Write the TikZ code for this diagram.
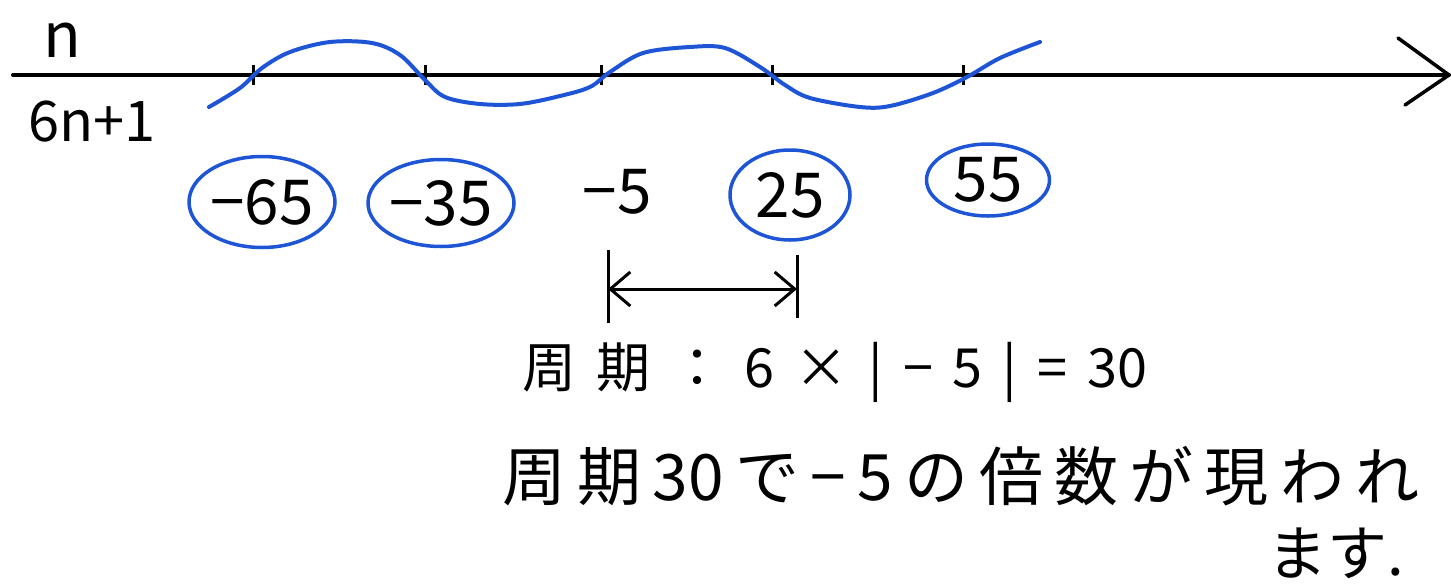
\documentclass[tikz,border=0pt]{standalone}
\usepackage{fontspec}
\setmainfont{Noto Sans CJK JP}
\usetikzlibrary{shapes.geometric,arrows.meta}
\definecolor{penblue}{RGB}{30,85,215}
\tikzset{
  ink/.style={line width=3.5pt, draw=black, line cap=round, line join=round},
  tickmark/.style={line width=3pt, draw=black},
  wave/.style={line width=4pt, draw=penblue, line cap=round, line join=round},
  circnum/.style={ellipse, draw=penblue, line width=3.5pt, inner sep=0pt,
    font=\fontsize{62pt}{64pt}\selectfont},
  plainnum/.style={inner sep=0pt, font=\fontsize{62pt}{64pt}\selectfont},
  axislabel/.style={inner sep=0pt, font=\fontsize{#1}{#1}\selectfont},
  jline/.style={inner sep=0pt, font=\fontsize{#1}{#1}\selectfont},
  barb/.style={line width=3pt, {Straight Barb[length=20pt,width=34pt]}-{Straight Barb[length=20pt,width=34pt]}}
}
\begin{document}
\begin{tikzpicture}[x=1pt,y=-1pt]
\useasboundingbox[fill=white] (0,0) rectangle (1451,584);

% axis
\coordinate (axstart) at (13,75);
\coordinate (axend) at (1449,75);
\coordinate (headtop) at (1398,38);
\coordinate (headbot) at (1405,105);
\draw[ink, line width=4pt] (axstart) -- (axend);
\draw[ink] (headtop) -- (axend) -- (headbot);

% ticks
\foreach \x/\n in {253/t1,425/t2,601/t3,772/t4,963/t5}{
  \coordinate (\n) at (\x,75);
  \draw[tickmark] (\n) ++(0,-10) -- ++(0,20);
}

% labels of axis
\node[axislabel=62pt, anchor=base] (nlab) at (62,57) {n};
\node[axislabel=56pt] (flab) at (92,122) {6n+1};

% blue wave
\draw[wave] plot[smooth, tension=0.55] coordinates {
 (209,107) (240,88) (262,68) (290,52) (330,42) (372,43) (400,55) (425,80)
 (445,97) (480,104) (520,104) (560,96) (590,87) (610,72) (643,53) (690,47)
 (725,48) (760,67) (785,85) (810,98) (860,107) (890,106) (933,93) (967,77)
 (1000,58) (1040,42)};

% values
\node[circnum, minimum width=131pt, minimum height=91pt] (m65) at (262,202) {−65};
\node[circnum, minimum width=133pt, minimum height=87pt] (m35) at (441,203) {−35};
\node[plainnum] (m5) at (617,192) {−5};
\node[circnum, minimum width=120pt, minimum height=90pt] (p25) at (790,195) {25};
\node[circnum, minimum width=123pt, minimum height=72pt] (p55) at (988,180) {55};

% period arrow
\coordinate (pL) at (608,289);
\coordinate (pR) at (797,289);
\draw[tickmark] (608,250) -- (608,323);
\draw[tickmark] (797,255) -- (797,318);
\draw[barb] (pL) -- (pR);

% texts
\node[jline=54pt] (period) at (835,372) {\makebox[625pt][s]{周 期 ： 6 × | − 5 | = 30}};
\node[jline=64pt] (conc1) at (961,476) {\makebox[917pt][s]{周 期 30 で − 5 の 倍 数 が 現 わ れ}};
\node[jline=60pt] (conc2) at (1336,553) {ます.};
\end{tikzpicture}
\end{document}
